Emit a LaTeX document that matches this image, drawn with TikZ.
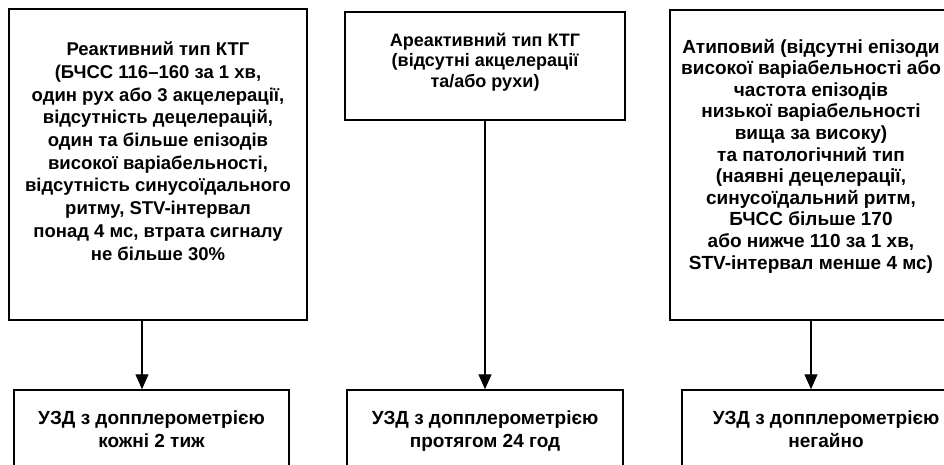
\documentclass[tikz,border=0pt]{standalone}
\usepackage{fontspec}
\setmainfont{Liberation Sans}
\usetikzlibrary{arrows.meta}
\newcommand{\boxtext}[4]{\parbox[c][#2][t]{#1}{\centering\vspace*{#3}#4}}

\begin{document}
\begin{tikzpicture}[
        x=1pt, y=-1pt,
        Box/.style={draw, line width=1.5pt, inner sep=0pt},
        Big/.style={font=\bfseries\fontsize{18.5}{22.7}\selectfont},
        Mid/.style={font=\bfseries\fontsize{18}{20.6}\selectfont},
        Small/.style={font=\bfseries\fontsize{19}{21.6}\selectfont},
        Low/.style={font=\bfseries\fontsize{19}{22.7}\selectfont},
        ]
    \useasboundingbox (0,0) rectangle (944,464);
    \clip (0,0) rectangle (944,464);
    \node [Box, Big] (react) at (158,164.5) {\boxtext{298pt}{311pt}{33pt}{%
        Реактивний тип КТГ\\
        (БЧСС 116–160 за 1 хв,\\
        один рух або 3 акцелерації,\\
        відсутність децелерацій,\\
        один та більше епізодів\\
        високої варіабельності,\\
        відсутність синусоїдального\\
        ритму, STV-інтервал\\
        понад 4 мс, втрата сигналу\\
        не більше 30\%}};
    \node [Box, Mid] (areact) at (485,66) {\boxtext{280pt}{108pt}{21pt}{%
        Ареактивний тип КТГ\\
        (відсутні акцелерації\\
        та/або рухи)}};
    \node [Box, Small] (atyp) at (811,165) {\boxtext{282pt}{310pt}{29pt}{%
        Атиповий (відсутні епізоди\\
        високої варіабельності або\\
        частота епізодів\\
        низької варіабельності\\
        вища за високу)\\
        та патологічний тип\\
        (наявні децелерації,\\
        синусоїдальний ритм,\\
        БЧСС більше 170\\
        або нижче 110 за 1 хв,\\
        STV-інтервал менше 4 мс)}};
    \node [Box, Low] (usd1) at (151.5,440) {\boxtext{275pt}{100pt}{21pt}{%
        УЗД з допплерометрією\\
        кожні 2 тиж}};
    \node [Box, Low] (usd2) at (485,440) {\boxtext{276pt}{100pt}{21pt}{%
        УЗД з допплерометрією\\
        протягом 24 год}};
    \node [Box, Low] (usd3) at (826,440) {\boxtext{288pt}{100pt}{21pt}{%
        УЗД з допплерометрією\\
        негайно}};
    \begin{scope}[line width=1.3pt, -{Triangle[length=15pt, width=13pt]}]
        \draw ([xshift=-16pt]react.south) -- ([xshift=-16pt]react.south |- usd1.north);
        \draw (areact.south) -- (usd2.north);
        \draw (atyp.south) -- (atyp.south |- usd3.north);
    \end{scope}
\end{tikzpicture}
\end{document}
